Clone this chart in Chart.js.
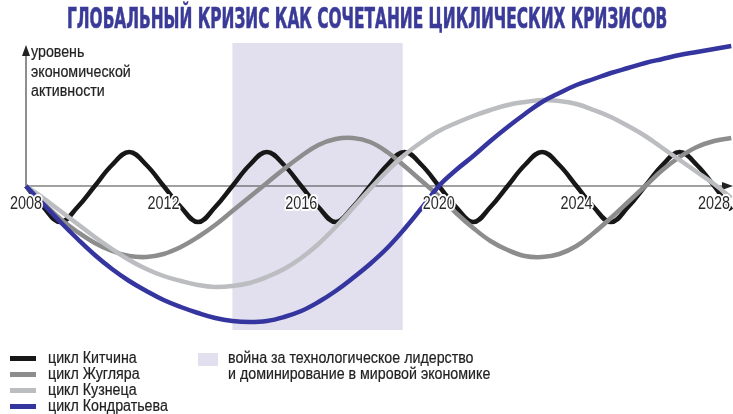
<!DOCTYPE html>
<html>
<head>
<meta charset="utf-8">
<script src="https://cdn.jsdelivr.net/npm/chart.js@4.4.1/dist/chart.umd.min.js"></script>
<style>
  body { margin: 0; background: #fff; }
  #wrap { position: relative; width: 733px; height: 414px; overflow: hidden;
          font-family: "Liberation Sans", Arial, sans-serif; }
  #cycles { position: absolute; left: 0; top: 0; }
  .t { position: absolute; white-space: nowrap; color: #222; font-size: 16px; line-height: 16px;
       -webkit-text-stroke: 0.2px #222;
       transform: scaleX(0.89); transform-origin: left top; }
  #title { position: absolute; top: 4px; left: 67px; white-space: nowrap; font-weight: bold;
           font-family: "DejaVu Sans Condensed", "Liberation Sans", sans-serif;
           font-size: 28px; line-height: 30px; color: #3a3a98;
           -webkit-text-stroke: 0.6px #3a3a98; transform-origin: left top; }
  .sw { position: absolute; }
</style>
</head>
<body>
<div id="wrap">
  <canvas id="cycles" width="733" height="414"></canvas>
  <div id="title">ГЛОБАЛЬНЫЙ КРИЗИС КАК СОЧЕТАНИЕ ЦИКЛИЧЕСКИХ КРИЗИСОВ</div>
  <div id="ylabel"></div>
  <div id="legend"></div>
</div>
<script>
// years sampled every half year
const years = [];
for (let y = 2008; y <= 2028.5; y += 0.5) years.push(y);

// values (0 = axis)
const kitchin = [0, -21, -36, -21, 0, 21, 34, 21, 0, -21, -36, -21, 0, 21, 34, 21, 0, -21, -36, -21,
  0, 21, 34, 21, 0, -21, -36, -21, 0, 21, 34, 21, 0, -21, -36, -21, 0, 21, 34, 21, 0, -24];
const juglar = [0, -17, -33, -46, -57, -65, -70, -71, -68, -61, -51, -39, -25, -11, 3, 17, 30, 41, 47, 48,
  44, 34, 20, 5, -10, -27, -42, -55, -64, -70, -71, -68, -60, -47, -32, -16, 0, 16, 29, 39, 45, 48];
const kuznets = [0, -12, -25, -38, -51, -63, -74, -83, -90, -95, -99, -101, -100, -97, -91, -83, -72, -58, -41, -22,
  -3, 15, 31, 44, 55, 63, 70, 76, 81, 84, 86, 85, 82, 76, 69, 60, 50, 38, 26, 14, 2, -12];
const kondratiev = [0, -18, -36, -53, -69, -83, -95, -105, -114, -121, -127, -132, -135, -136, -135, -131, -125, -116, -105, -92,
  -78, -62, -43, -22, 0, 16, 30, 45, 59, 72, 84, 93, 101, 107, 113, 118, 123, 127, 131, 134, 137, 140];

const tickYears = [2008, 2012, 2016, 2020, 2024, 2028];
const warPeriod = [2014, 2018.95];

const seriesNames = ['цикл Китчина', 'цикл Жугляра', 'цикл Кузнеца', 'цикл Кондратьева'];
const seriesColors = ['#171717', '#8d8d8d', '#bcbdc0', '#3535a0'];
const warLabel = ['война за технологическое лидерство', 'и доминирование в мировой экономике'];
const warColor = '#e2e0ee';
const yTitle = ['уровень', 'экономической', 'активности'];

const allSeries = [kitchin, juglar, kuznets, kondratiev];
const drawOrder = [3, 2, 1, 0];

const axisPlugin = {
  id: 'axisPlugin',
  beforeDatasetsDraw(chart) {
    const { ctx, scales: { x, y }, chartArea } = chart;
    ctx.save();
    // shaded war period
    ctx.fillStyle = warColor;
    const x0 = x.getPixelForValue(warPeriod[0]);
    const x1 = x.getPixelForValue(warPeriod[1]);
    ctx.fillRect(x0, chartArea.top, x1 - x0, chartArea.bottom - chartArea.top);

    const y0 = y.getPixelForValue(0);
    const xl = x.getPixelForValue(2008);
    ctx.strokeStyle = '#444';
    ctx.fillStyle = '#222';
    ctx.lineWidth = 1.2;
    // x axis
    ctx.beginPath();
    ctx.moveTo(xl, y0);
    ctx.lineTo(725, y0);
    ctx.stroke();
    ctx.beginPath();
    ctx.moveTo(733, y0);
    ctx.lineTo(722, y0 - 4);
    ctx.lineTo(722, y0 + 4);
    ctx.closePath();
    ctx.fill();
    // y axis
    ctx.beginPath();
    ctx.moveTo(xl, y0);
    ctx.lineTo(xl, 52);
    ctx.stroke();
    ctx.beginPath();
    ctx.moveTo(xl, 45);
    ctx.lineTo(xl - 4, 56);
    ctx.lineTo(xl + 4, 56);
    ctx.closePath();
    ctx.fill();
    ctx.restore();
  },
  afterDatasetsDraw(chart) {
    const { ctx, scales: { x, y } } = chart;
    const y0 = y.getPixelForValue(0);
    ctx.save();
    ctx.font = '18px "Liberation Sans", Arial, sans-serif';
    ctx.textAlign = 'center';
    ctx.textBaseline = 'middle';
    ctx.lineJoin = 'round';
    tickYears.forEach(yr => {
      const px = x.getPixelForValue(yr);
      ctx.save();
      ctx.translate(px, y0 + 18);
      ctx.scale(0.8, 1);
      ctx.strokeStyle = '#fff';
      ctx.lineWidth = 4;
      ctx.strokeText(String(yr), 0, 0);
      ctx.fillStyle = '#2a2a2a';
      ctx.fillText(String(yr), 0, 0);
      ctx.restore();
    });
    ctx.restore();
  }
};

const ctx = document.getElementById('cycles').getContext('2d');
const myChart = new Chart(ctx, {
  type: 'line',
  data: {
    datasets: allSeries.map((vals, i) => ({
      label: seriesNames[i],
      data: years.map((yr, j) => ({ x: yr, y: vals[j] })),
      borderColor: seriesColors[i],
      borderWidth: 4.5,
      pointRadius: 0,
      tension: 0.4,
      fill: false,
      clip: false,
      order: drawOrder[i]
    }))
  },
  options: {
    responsive: false,
    animation: false,
    layout: { padding: { left: 26, right: 0, top: 43, bottom: 84 } },
    scales: {
      x: { type: 'linear', min: 2008, max: 2028.55, display: false },
      y: { min: -144, max: 143, display: false }
    },
    plugins: { legend: { display: false }, tooltip: { enabled: false } }
  },
  plugins: [axisPlugin]
});

// title squeezed to the width of the original
const title = document.getElementById('title');
title.style.transform = 'scaleX(' + (600 / title.offsetWidth) + ')';

// y axis caption
const ylabel = document.getElementById('ylabel');
yTitle.forEach((line, i) => {
  const d = document.createElement('div');
  d.className = 't';
  d.style.left = '31px';
  d.style.top = (44 + i * 19.5) + 'px';
  d.textContent = line;
  ylabel.appendChild(d);
});

// legend
const legend = document.getElementById('legend');
seriesNames.forEach((name, i) => {
  const cy = 358 + i * 16;
  const sw = document.createElement('div');
  sw.className = 'sw';
  sw.style.cssText = `left:10px;top:${cy - 2.5}px;width:26px;height:5px;background:${seriesColors[i]}`;
  legend.appendChild(sw);
  const d = document.createElement('div');
  d.className = 't';
  d.style.left = '48px';
  d.style.top = (cy - 8) + 'px';
  d.textContent = name;
  legend.appendChild(d);
});
const box = document.createElement('div');
box.className = 'sw';
box.style.cssText = `left:198px;top:353px;width:20px;height:13px;background:${warColor}`;
legend.appendChild(box);
warLabel.forEach((line, i) => {
  const d = document.createElement('div');
  d.className = 't';
  d.style.left = '228px';
  d.style.top = (358 + i * 16 - 8) + 'px';
  d.textContent = line;
  legend.appendChild(d);
});
</script>
</body>
</html>
